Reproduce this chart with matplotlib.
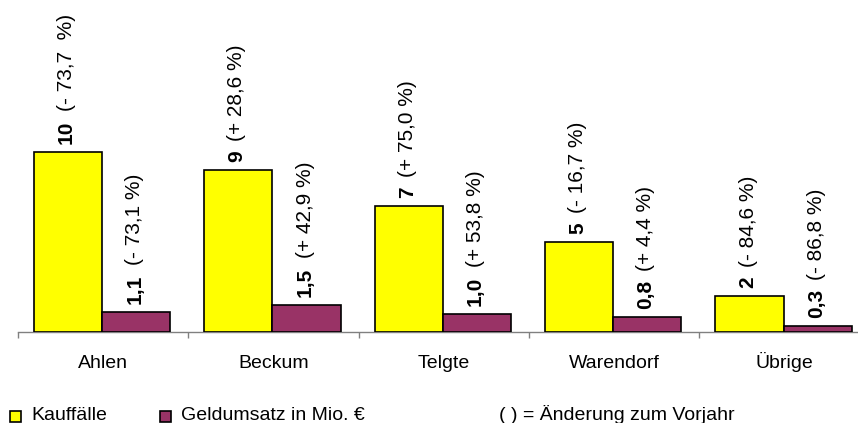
import matplotlib
matplotlib.use("Agg")
import matplotlib.pyplot as plt
from matplotlib.patches import Rectangle
import numpy as np

# Data
orte = ["Ahlen", "Beckum", "Telgte", "Warendorf", "Übrige"]
kauffaelle = [10, 9, 7, 5, 2]
geldumsatz = [1.1, 1.5, 1.0, 0.8, 0.3]
kauf_aenderung = ["(- 73,7  %)", "(+ 28,6 %)", "(+ 75,0 %)", "(- 16,7 %)", "(- 84,6 %)"]
geld_aenderung = ["(- 73,1 %)", "(+ 42,9 %)", "(+ 53,8 %)", "(+ 4,4 %)", "(- 86,8 %)"]
legend_labels = ["Kauffälle", "Geldumsatz in Mio. €"]
note = "( ) = Änderung zum Vorjahr"

YELLOW = "#FFFF00"
PURPLE = "#993366"
GRAY = "#808080"
FONT = "Liberation Sans"

plt.rcParams["font.family"] = [FONT, "DejaVu Sans"]

W, H = 858, 423
fig = plt.figure(figsize=(W / 100, H / 100), dpi=100)
fig.patch.set_facecolor("white")

base_px = 331.5
left_px = 17.7
cat_px = 170.4
ax = fig.add_axes([left_px / W, (H - base_px) / H, 5 * cat_px / W, base_px / H])
ax.set_xlim(-0.5, 4.5)
ax.set_ylim(0, base_px / 17.96)

x = np.arange(len(orte))
bw = 0.4
b1 = ax.bar(x - 0.205, kauffaelle, bw, color=YELLOW, edgecolor="black", linewidth=1.2, zorder=3)
b2 = ax.bar(x + 0.195, geldumsatz, bw, color=PURPLE, edgecolor="black", linewidth=1.2, zorder=3)


def fmt(v, dec):
    return f"{v:.{dec}f}".replace(".", ",")


def label_bars(bars, values, changes, dec):
    for rect, v, ch in zip(bars, values, changes):
        cx = rect.get_x() + rect.get_width() / 2
        t = ax.annotate(fmt(v, dec), xy=(cx, v), xytext=(-1, 5.5), textcoords="offset points",
                        rotation=90, ha="center", va="bottom", fontsize=15,
                        fontweight="bold", annotation_clip=False)
        ax.annotate(ch, xy=(0.5, 1.0), xycoords=t, xytext=(0, 7), textcoords="offset points",
                    rotation=90, ha="center", va="bottom", fontsize=15, annotation_clip=False)


label_bars(b1, kauffaelle, kauf_aenderung, 0)
label_bars(b2, geldumsatz, geld_aenderung, 1)

for s in ["left", "right", "top"]:
    ax.spines[s].set_visible(False)
ax.spines["bottom"].set_color(GRAY)
ax.spines["bottom"].set_linewidth(1.0)
ax.set_yticks([])

ax.set_xticks(np.arange(-0.5, 5.0, 1.0))
ax.set_xticklabels([])
ax.tick_params(axis="x", which="major", direction="out", length=4, width=1, color=GRAY)
ax.set_xticks(x, minor=True)
ax.set_xticklabels(orte, minor=True, fontsize=14, va="baseline")
ax.tick_params(axis="x", which="minor", length=0, pad=26.5)

# Legend drawn below the axis
def legend_item(x0, color, text):
    sq = 11
    fig.add_artist(Rectangle((x0 / W, (H - 422) / H), sq / W, sq / H, transform=fig.transFigure,
                             facecolor=color, edgecolor="black", linewidth=1.2))
    fig.text((x0 + sq + 10) / W, (H - 420) / H, text, fontsize=14, ha="left", va="baseline")


legend_item(10, YELLOW, legend_labels[0])
legend_item(160, PURPLE, legend_labels[1])
fig.text(499 / W, (H - 420) / H, note, fontsize=14, ha="left", va="baseline")

fig.savefig("out.png", dpi=100)
